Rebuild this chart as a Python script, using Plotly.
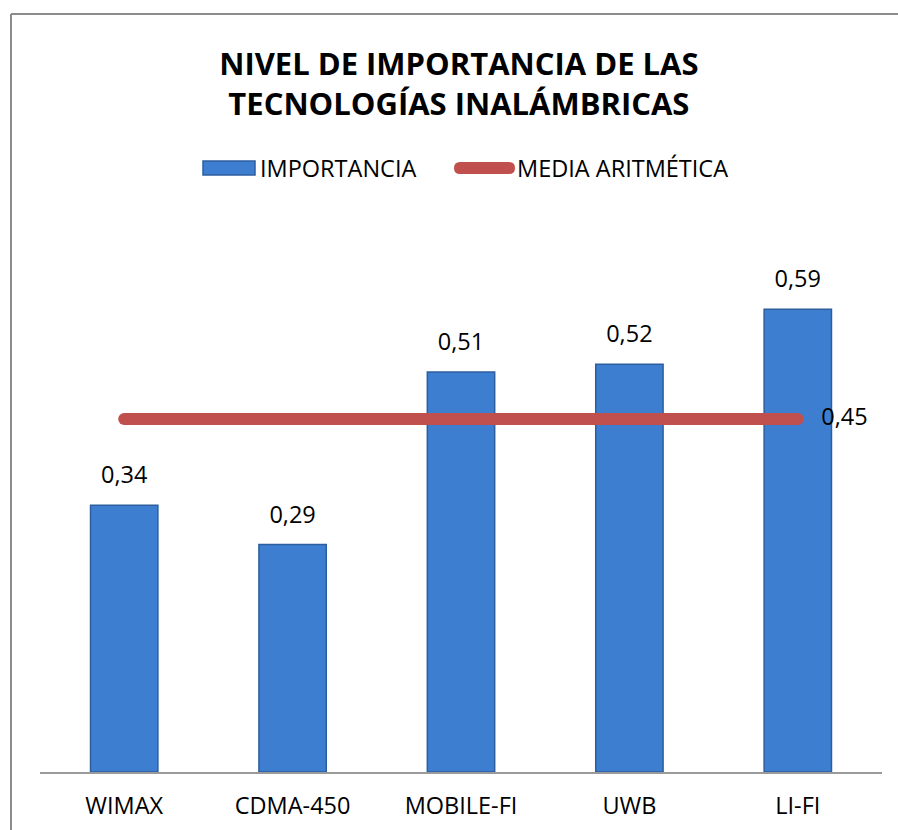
import plotly.graph_objects as go

# Chart data
categorias = ["WIMAX", "CDMA-450", "MOBILE-FI", "UWB", "LI-FI"]
importancia = [0.34, 0.29, 0.51, 0.52, 0.59]
media = [0.45, 0.45, 0.45, 0.45, 0.45]
serie_barras = "IMPORTANCIA"
serie_media = "MEDIA ARITMÉTICA"

FONT = "'Open Sans', sans-serif"
TXT = 23.5
BAR_BLUE = "#3D7ED0"
BAR_EDGE = "#2C5E9E"
RED = "#C0504D"


def fmt(v):
    return f"{v:.2f}".replace(".", ",")


fig = go.Figure()

fig.add_trace(go.Bar(
    x=categorias,
    y=importancia,
    name=serie_barras,
    width=0.4,
    marker=dict(color=BAR_BLUE, line=dict(color=BAR_EDGE, width=1.5)),
    showlegend=False,
))

# Value labels above the bars
fig.add_trace(go.Scatter(
    x=categorias,
    y=importancia,
    mode="markers+text",
    marker=dict(size=24, opacity=0),
    text=[fmt(v) for v in importancia],
    textposition="top center",
    textfont=dict(size=TXT, color="#000000", family=FONT),
    hoverinfo="skip",
    showlegend=False,
    cliponaxis=False,
))

# Arithmetic mean line
fig.add_trace(go.Scatter(
    x=categorias,
    y=media,
    name=serie_media,
    mode="lines",
    line=dict(color=RED, width=12),
    showlegend=False,
))
# Rounded ends of the mean line
fig.add_trace(go.Scatter(
    x=[categorias[0], categorias[-1]],
    y=[media[0], media[-1]],
    mode="markers",
    marker=dict(color=RED, size=12, line=dict(width=0)),
    hoverinfo="skip",
    showlegend=False,
))
# Mean value label at the right end
fig.add_trace(go.Scatter(
    x=[categorias[-1]],
    y=[media[-1]],
    mode="markers+text",
    marker=dict(size=36, opacity=0),
    text=[fmt(media[-1])],
    textposition="middle right",
    textfont=dict(size=TXT, color="#000000", family=FONT),
    hoverinfo="skip",
    showlegend=False,
    cliponaxis=False,
))

# Pixel-to-paper helpers
l_px, r_px, t_px, b_px = 40, 16, 223, 58
W, H = 898, 830
pw = W - l_px - r_px
ph = H - t_px - b_px


def px_x(px):
    return (px - l_px) / pw


def px_y(py):
    return (H - b_px - py) / ph


# Legend entries drawn as shapes + text
ly = 168
r = 6
rx0, rx1 = 454, 515
red_pill = (
    f"M {px_x(rx0 + r)},{px_y(ly - r)} L {px_x(rx1 - r)},{px_y(ly - r)} "
    f"Q {px_x(rx1)},{px_y(ly - r)} {px_x(rx1)},{px_y(ly)} "
    f"Q {px_x(rx1)},{px_y(ly + r)} {px_x(rx1 - r)},{px_y(ly + r)} "
    f"L {px_x(rx0 + r)},{px_y(ly + r)} "
    f"Q {px_x(rx0)},{px_y(ly + r)} {px_x(rx0)},{px_y(ly)} "
    f"Q {px_x(rx0)},{px_y(ly - r)} {px_x(rx0 + r)},{px_y(ly - r)} Z"
)

shapes = [
    # outer frame (left and top edges)
    dict(type="line", xref="paper", yref="paper",
         x0=px_x(11), x1=px_x(11), y0=px_y(H), y1=px_y(14),
         line=dict(color="#8C8C8C", width=2)),
    dict(type="line", xref="paper", yref="paper",
         x0=px_x(11), x1=px_x(W), y0=px_y(14), y1=px_y(14),
         line=dict(color="#8C8C8C", width=2)),
    # legend key: bar
    dict(type="rect", xref="paper", yref="paper",
         x0=px_x(203), x1=px_x(255), y0=px_y(ly + 7), y1=px_y(ly - 7),
         fillcolor=BAR_BLUE, line=dict(color=BAR_EDGE, width=1.5)),
    # legend key: mean line
    dict(type="path", xref="paper", yref="paper", path=red_pill,
         fillcolor=RED, line=dict(width=0)),
]

legend_font = dict(size=TXT, family=FONT, color="#000000")
annotations = [
    dict(text=serie_barras, xref="paper", yref="paper",
         x=px_x(258), y=px_y(ly), xanchor="left", yanchor="middle",
         showarrow=False, font=legend_font),
    dict(text=serie_media, xref="paper", yref="paper",
         x=px_x(515), y=px_y(ly), xanchor="left", yanchor="middle",
         showarrow=False, font=legend_font),
]

fig.update_layout(
    width=W,
    height=H,
    margin=dict(l=l_px, r=r_px, t=t_px, b=b_px, autoexpand=False),
    paper_bgcolor="white",
    plot_bgcolor="white",
    font=dict(family=FONT, color="#000000"),
    title=dict(
        text="<b>NIVEL DE IMPORTANCIA DE LAS<br>TECNOLOGÍAS INALÁMBRICAS</b>",
        x=0.511, xanchor="center",
        y=1 - 75 / H, yanchor="middle",
        font=dict(size=31, family=FONT, color="#000000"),
    ),
    showlegend=False,
    xaxis=dict(
        showline=True, linecolor="#9A9A9A", linewidth=2,
        showgrid=False, ticks="", ticklabelstandoff=12,
        automargin=False,
        tickfont=dict(size=TXT, family=FONT, color="#000000"),
    ),
    yaxis=dict(
        range=[0, 0.7], visible=False, showgrid=False, zeroline=False,
        automargin=False,
    ),
    shapes=shapes,
    annotations=annotations,
)

fig.write_html("out.html")
